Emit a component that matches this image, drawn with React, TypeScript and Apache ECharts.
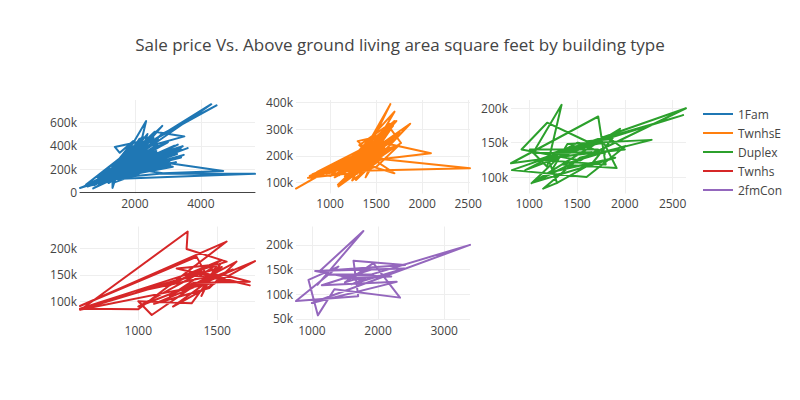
import React, { useEffect, useRef } from "react";
import * as echarts from "echarts";

// Above-ground living area (sq ft) and sale price ($k) per building type, in data order
const famArea = [1710,1262,1786,1717,2198,1362,1694,2090,1774,1040,2324,912,1494,1253,854,1004,1114,1339,2376,1108,1795,1600,1900,1704,1600,520,1317,1228,1234,1700,1561,2452,1096,1626,1210,1944,1082,1060,2228,1390,1540,1950,1072,1660,1188,1337,2116,1350,2060,2287,1968,1573,2340,2002,1164,1310,1470,1932,1522,2176,1250,334,882,1412,1666,2020,3000,4676,2850,1720,1302,2270,1296,1480,890,1208,1126,2036,1658,1040,1100,3140,1564,2634,1724,1048,1444,1320,1320,2830,1650,1100,1500,1180,1008,2480,1384,1020,4316,2450,4476,2790,1652,812,1440,1800,1960,1116,2800,3280,1470,1540,760,1390,2200,3500,2600,1120,1528,1430,960,3080,1664,2200,480,1600,2650,1200,3450,1814,1116,3480,2100,1400,1040,2550,1150,5642,2740,1600,1960,918,1320,735,1500,2200,880,1620,1230,3000,1812,1360,1644,1768,1024,2650,700,1570,1272,2400,1356,1920,1800,2100,1420,1188,2500,1680,864,1342,2290,1576,1208,3200,1970,1080,1256,1100,1500,2146,1406,2000,780,1560,1124,1726,1480,1300,2700,1440,2112,600,1212,1870,1576,1100,2430,1376,1690,1000,2200,1644,1200,1474,3300,1370,1640,950,1250,2000,1700,2300,1536,1130,1800,1050,1600,1900,900,1264,1500,1940,2700,1360,1000,1710,
  1656,1092,660,1785,2400,968,1458,540,1240,2018,1512,1124,2240,1698,1368,2220,848,1586,720,1294,1932,1064,1744,2140,1414,2520,988,1630,630,1196,1866,1518,1008,2136,2380,1334,1602,912,1792,780,1152,2348,1468,1218,1686,1042,1908,2560,1372,2580,1276,1552,864,690,1826,1432,2060,1160,1614,1350,744,1748,2060,1080,2256,1496,1190,1964,440,1330,1572,936,1858,1224,2488,1410,1678,1018,2600,2096,1306,1542,832,1902,1446,2160,1136,1720,1398,2680,1246,1618,986,2700,1834,1484,1056,2252,1362,1596,892,1760,1174,2010,1520,1284,1938,1090,1672,1422,2900,2320,1198,1582,940,1880,1338,2148,1106,1708,1454,626,1996,1268,1634,1028,1846,1392,2388,1176,3200,1566,872,1732,1476,2072,1142,1664,1326,2540,1232,1598,998,1922,1436,2184,1070,1776,1382,3400,2290,1216,1544,904,1812,1460,2038,1156,1690,1346,2604,1258,1610,976,1872,1402,2118,1086,1740,1490,1020,2240,1380,1700,1150,1900,1250,2450,950,1600,1320,2150,1050,1800,1420,2350,820,1650,1100,1980,1280,2550,980,1560,1180,2050,900,1720,1360,2280,1080,1850,560,1500,1200,2100,1000,
  2900,1400,3100,1200,2750,1600,3300,1300,2950,1500,3600,1100,2850,1700,3400,1250,3050,1800,2600,1000,3250,1550,2780,1350,3150,900,2680];
const famPrice = [208,181,223,140,250,143,307,200,130,129,345,144,279,157,132,149,159,139,325,139,230,154,256,135,306,68,149,145,180,279,172,320,129,212,154,325,118,113,440,390,340,440,127,175,142,147,280,190,394,425,385,245,611,210,128,169,175,262,185,285,135,39,88,140,210,395,253,185,165,215,118,277,147,199,76,120,122,223,263,107,106,341,205,375,250,114,148,40,163,570,192,104,216,133,116,450,185,112,755,430,745,495,190,80,169,262,232,105,290,330,158,204,62,167,378,480,520,125,180,178,96,231,230,175,55,135,240,100,396,252,137,322,160,89,120,260,114,160,160,131,335,110,113,35,148,255,130,188,164,430,240,110,192,270,91,355,78,197,130,224,131,300,345,260,141,96,305,224,108,176,360,169,149,290,175,85,154,181,231,282,220,245,92,152,128,193,265,203,200,128,290,66,147,214,176,142,395,161,246,103,319,200,81,134,300,122,238,112,167,185,165,300,186,152,370,89,280,214,60,141,174,230,390,175,135,185,
  165,128,75,245,290,115,178,58,139,255,190,137,480,218,159,311,92,200,82,155,239,118,215,460,171,340,106,192,70,146,266,167,120,270,500,151,210,98,232,88,130,318,185,141,237,110,276,470,160,365,152,196,102,62,249,174,287,135,205,148,70,228,410,124,305,181,138,270,50,156,214,104,242,144,372,163,220,112,440,298,150,188,86,255,170,266,126,232,166,410,148,198,118,460,262,176,115,330,158,207,100,240,134,268,193,147,282,121,209,168,420,350,143,201,108,258,152,300,127,226,179,60,277,146,212,114,251,162,338,131,400,195,96,234,182,284,133,216,154,355,150,203,117,271,173,294,119,238,164,370,322,140,192,103,247,177,273,132,222,157,380,149,206,111,260,169,289,123,229,184,95,260,132,190,110,225,120,280,90,170,125,240,100,195,150,250,75,180,98,220,115,290,87,160,105,215,84,172,128,235,96,200,52,140,112,230,92,
  310,150,360,130,280,180,410,140,350,170,380,120,240,200,300,150,270,210,330,110,260,175,400,145,220,100,300];

const twnhsEArea = [1060,1387,1504,1236,1580,960,1456,1208,1338,1655,1352,1494,780,1717,1246,1700,1342,1128,1560,1316,1870,1434,860,1456,1720,1290,1096,2520,1500,1300,1620,1200,1684,1364,1092,1400,1771,1660,1420,1282,1600,1190,1540,2095,1480,1699,1344,1000,1700,1200,1440,1086,1612,1386,1510,810,1300,1620,1236,1400,630,1334,1566,1240,1480,1154,1550,1362,760,1470,1318,1650,1380,1160,1506,1750,1420,1290,1582,1040,
  1114,1494,1258,1600,1050,1380,1702,1190,1468,900,1544,1320,1636,1140,1410,1760,1230,1520,990,1350,1680,1270,1458,1100,1590,1300,1640,1212,1500,840];
const twnhsEPrice = [130,175,215,138,210,133,190,153,200,393,182,238,125,230,194,365,156,100,270,186,320,162,140,245,330,166,143,154,190,255,280,115,312,205,86,162,248,300,180,110,215,158,252,210,185,135,172,125,330,178,210,92,250,120,224,132,193,295,150,230,78,215,190,108,270,166,225,140,118,200,240,320,165,124,160,240,205,132,230,150,
  142,205,170,225,120,198,260,148,230,128,212,178,248,136,190,285,160,220,135,185,270,150,208,128,232,168,290,157,198,122];

const duplexArea = [1296,1200,1656,1040,1339,1188,1008,1720,1536,920,1188,1600,1850,2000,1400,810,1722,1800,1100,2640,1040,1900,1224,1400,2280,1530,1146,1287,1660,1950,1025,1320,1440,820,1600,2010,1350,1914,1780,1250,2610,1200,1660,960,1510,1800];
const duplexPrice = [90,126,136,135,205,115,140,140,124,140,179,152,155,140,131,120,188,118,125,200,92,128,107,148,154,128,83,91,120,170,91,130,140,110,100,145,118,113,150,135,190,129,147,110,150,133];

const twnhsArea = [630,1313,1306,1560,630,1000,1560,630,1370,1450,1740,1220,1500,990,1530,1085,1000,1338,1520,1243,1707,1400,1000,1600,1280,1623,1450,1100,1540,1707,1350,1200,1500,1400,1480,630,1570,1300,1530,1200,1440];
const twnhsPrice = [83,232,199,175,86,85,213,91,184,140,176,90,150,118,165,74,100,96,170,162,130,155,90,160,120,175,125,95,150,137,135,110,170,110,160,84,140,150,178,130,168];

const fmConArea = [1077,1778,1120,2407,1629,1700,760,1401,949,1090,1340,2332,1929,1500,3390,1000,2282,1150,1900,1450,2200,1236,1929,1600,2400,1050,1800];
const fmConPrice = [118,228,147,159,168,96,86,156,129,57,110,93,163,124,200,82,125,118,150,132,136,140,140,120,152,147,128];

const seriesNames = ["1Fam", "TwnhsE", "Duplex", "Twnhs", "2fmCon"];
const seriesAreas = [famArea, twnhsEArea, duplexArea, twnhsArea, fmConArea];
const seriesPrices = [famPrice, twnhsEPrice, duplexPrice, twnhsPrice, fmConPrice];
const colors = ["#1f77b4", "#ff7f0e", "#2ca02c", "#d62728", "#9467bd"];

const xRanges = [[334, 5642], [630, 2520], [810, 2640], [630, 1740], [760, 3390]];
const yRanges = [[-8, 791], [59.6, 408.4], [76, 212], [64.5, 241.5], [47.6, 237.3]];
const xTickValues = [[2000, 4000], [1000, 1500, 2000, 2500], [1000, 1500, 2000, 2500], [1000, 1500], [1000, 2000, 3000]];
const yTickValues = [[0, 200, 400, 600], [100, 200, 300, 400], [100, 150, 200], [100, 150, 200], [50, 100, 150, 200]];

const titleText = "Sale price Vs. Above ground living area square feet by building type";
const FONT = '"Open Sans", verdana, arial, sans-serif';

const gridRects = [
  { left: 80, top: 100, width: 175, height: 93.5 },
  { left: 296, top: 100, width: 174, height: 93.5 },
  { left: 511, top: 100, width: 175, height: 93.5 },
  { left: 80, top: 226.5, width: 175, height: 93.5 },
  { left: 296, top: 226.5, width: 174, height: 93.5 },
];

export default function App() {
  const ref = useRef<HTMLDivElement>(null);
  useEffect(() => {
    if (!ref.current) return;
    const chart = echarts.init(ref.current, null, { renderer: "svg" });
    const option: any = {
      animation: false,
      backgroundColor: "#fff",
      textStyle: { fontFamily: FONT },
      title: {
        text: titleText,
        left: "center",
        top: 36,
        padding: 0,
        textStyle: { fontSize: 17, fontWeight: "normal", color: "#444", fontFamily: FONT },
      },
      legend: {
        orient: "vertical",
        left: 703,
        top: 107,
        padding: 0,
        itemWidth: 30,
        itemHeight: 2,
        itemGap: 5,
        icon: "rect",
        selectedMode: false,
        textStyle: { color: "#444", fontSize: 12, lineHeight: 14, fontFamily: FONT },
        data: seriesNames,
      },
      grid: gridRects.map((g) => ({ ...g, containLabel: false, outerBoundsMode: "none" })),
      xAxis: gridRects.map((_, i) => ({
        type: "value",
        gridIndex: i,
        min: xRanges[i][0],
        max: xRanges[i][1],
        axisLine: { show: i === 0, onZero: true, lineStyle: { color: "#444", width: 1 } },
        axisTick: { show: false, customValues: xTickValues[i] },
        axisLabel: {
          customValues: xTickValues[i],
          formatter: (v: number) => String(v),
          color: "#444",
          fontSize: 12,
          margin: 4,
          fontFamily: FONT,
        },
        splitLine: { show: true, lineStyle: { color: "#eee", width: 1 } },
      })),
      yAxis: gridRects.map((_, i) => ({
        type: "value",
        gridIndex: i,
        min: yRanges[i][0],
        max: yRanges[i][1],
        axisLine: { show: false },
        axisTick: { show: false, customValues: yTickValues[i] },
        axisLabel: {
          customValues: yTickValues[i],
          formatter: (v: number) => (v === 0 ? "0" : v + "k"),
          color: "#444",
          fontSize: 12,
          margin: 3,
          fontFamily: FONT,
        },
        splitLine: { show: true, lineStyle: { color: "#eee", width: 1 } },
      })),
      series: seriesNames.map((name, i) => ({
        name,
        type: "line",
        xAxisIndex: i,
        yAxisIndex: i,
        data: seriesAreas[i].map((a, j) => [a, seriesPrices[i][j]]),
        symbol: "none",
        showSymbol: false,
        smooth: false,
        clip: true,
        color: colors[i],
        lineStyle: { color: colors[i], width: 2, join: "round" },
        emphasis: { disabled: true },
      })),
    };
    chart.setOption(option);
    return () => chart.dispose();
  }, []);
  return (
    <div
      ref={ref}
      style={{ position: "fixed", left: 0, top: 0, width: 800, height: 400, background: "#fff" }}
    />
  );
}
